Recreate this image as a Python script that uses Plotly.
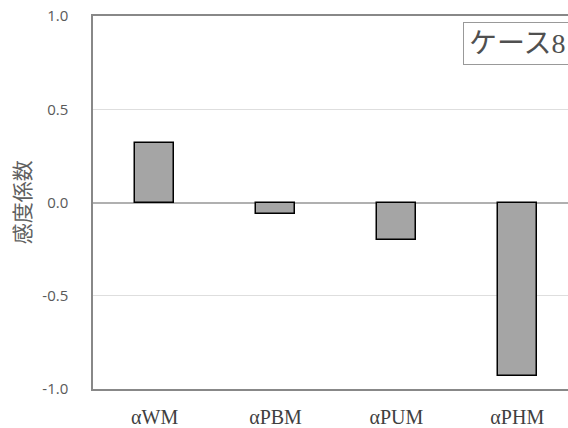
import plotly.graph_objects as go

categories = ["αWM", "αPBM", "αPUM", "αPHM"]
values = [0.32, -0.06, -0.20, -0.93]
y_ticks = [-1.0, -0.5, 0.0, 0.5, 1.0]
y_tick_labels = ["-1.0", "-0.5", "0.0", "0.5", "1.0"]
y_title = "感度係数"
case_label = "ケース8"

fig = go.Figure()
fig.add_trace(go.Bar(
    x=categories, y=values, width=0.32,
    marker=dict(color="#a5a5a5", line=dict(color="#000000", width=1.5)),
    showlegend=False,
))

fig.update_layout(
    width=568, height=428,
    margin=dict(l=93, r=0, t=16, b=34),
    paper_bgcolor="white", plot_bgcolor="white",
    bargap=0,
    xaxis=dict(
        range=[-0.51, 3.42], showgrid=False, zeroline=False,
        showline=True, linecolor="#888888", linewidth=1.5, mirror=True,
        ticks="", tickfont=dict(family="Liberation Serif", size=20, color="#404040"),
        ticklabelstandoff=9,
    ),
    yaxis=dict(
        range=[-1.0, 1.0], tickvals=y_ticks, ticktext=y_tick_labels,
        showgrid=True, gridcolor="#dedede", gridwidth=1.2,
        zeroline=True, zerolinecolor="#b0b0b0", zerolinewidth=1.5,
        showline=True, linecolor="#888888", linewidth=1.5,
        ticks="", tickfont=dict(family="Open Sans", size=15, color="#595959"),
        ticklabelstandoff=20,
    ),
    annotations=[
        dict(text=y_title, xref="paper", yref="paper", x=-0.152, y=0.5,
             textangle=-90, showarrow=False, xanchor="center", yanchor="middle",
             font=dict(family="Noto Sans CJK JP", size=21, color="#606060")),
        dict(text=case_label, xref="paper", yref="paper", x=0.7795, y=0.985,
             xanchor="left", yanchor="top", showarrow=False,
             bordercolor="#999999", borderwidth=1, borderpad=5, bgcolor="white",
             font=dict(family="Liberation Serif, Noto Sans CJK JP", size=28, color="#505050")),
    ],
)

fig.write_html("out.html", config={"displayModeBar": False},
               post_script="document.body.style.margin='0';document.body.style.overflow='hidden';")
